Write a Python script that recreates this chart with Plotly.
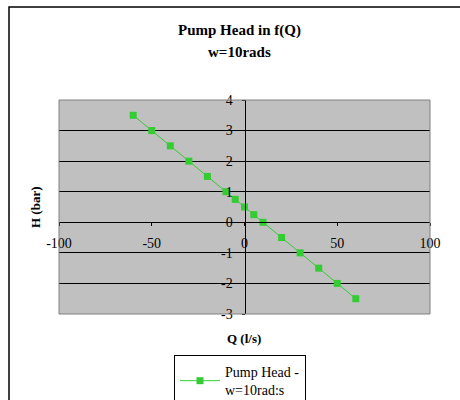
import plotly.graph_objects as go

# Data
flow_q = [-60, -50, -40, -30, -20, -10, -5, 0, 5, 10, 20, 30, 40, 50, 60]
head_h = [3.5, 3.0, 2.5, 2.0, 1.5, 1.0, 0.75, 0.5, 0.25, 0.0, -0.5, -1.0, -1.5, -2.0, -2.5]
x_ticks = [-100, -50, 0, 50, 100]
x_tick_labels = ["-100", "-50", "0", "50", "100"]
y_ticks = [-3, -2, -1, 0, 1, 2, 3, 4]
y_tick_labels = ["-3", "-2", "-1", "0", "1", "2", "3", "4"]
series_name = "Pump Head -<br>w=10rad:s"

W, H = 460, 400
L, R, T, B = 59, 30, 100, 86
PW, PH = W - L - R, H - T - B
XR = [-100, 100]
YR = [-3, 4]

def px(xp):
    return (xp - L) / PW

def py(yp):
    return (H - B - yp) / PH

FONT = "Liberation Serif, Times New Roman, serif"
GREEN = "#33CC33"

fig = go.Figure()
fig.add_trace(go.Scatter(
    x=flow_q, y=head_h, mode="lines+markers", name=series_name,
    line=dict(color=GREEN, width=1),
    marker=dict(symbol="square", size=7, color=GREEN),
))

fig.update_layout(
    width=W, height=H,
    margin=dict(l=L, r=R, t=T, b=B, autoexpand=False),
    paper_bgcolor="white", plot_bgcolor="#C0C0C0",
    font=dict(family=FONT, size=14, color="black"),
    showlegend=True,
    legend=dict(
        x=px(174), y=py(355), xanchor="left", yanchor="top",
        bordercolor="black", borderwidth=1, bgcolor="white",
        font=dict(family=FONT, size=14, color="black"),
        itemwidth=40,
    ),
    xaxis=dict(
        range=XR, tickvals=x_ticks, ticktext=x_tick_labels,
        showgrid=False, zeroline=False,
        showline=True, linecolor="black", linewidth=1,
        anchor="free", position=(0 - YR[0]) / (YR[1] - YR[0]),
        ticks="outside", ticklen=3, tickcolor="black",
        ticklabelstandoff=5,
        tickfont=dict(family=FONT, size=14),
    ),
    yaxis=dict(
        range=YR, tickvals=y_ticks, ticktext=y_tick_labels,
        showgrid=True, gridcolor="black", gridwidth=1,
        zeroline=False,
        showline=True, linecolor="black", linewidth=1,
        anchor="free", position=(0 - XR[0]) / (XR[1] - XR[0]),
        ticks="outside", ticklen=3, tickcolor="black",
        ticklabelstandoff=6,
        tickfont=dict(family=FONT, size=14),
    ),
    shapes=[
        dict(type="rect", xref="paper", yref="paper", x0=0, x1=1, y0=0, y1=1,
             line=dict(color="#808080", width=1), layer="above"),
        dict(type="rect", xref="paper", yref="paper",
             x0=px(9), x1=px(475), y0=py(415), y1=py(7),
             line=dict(color="black", width=1.5)),
    ],
    annotations=[
        dict(text="<b>Pump Head in f(Q)</b>", xref="paper", yref="paper",
             x=px(239), y=py(30), showarrow=False, xanchor="center", yanchor="middle",
             font=dict(family=FONT, size=15)),
        dict(text="<b>w=10rads</b>", xref="paper", yref="paper",
             x=px(239), y=py(52), showarrow=False, xanchor="center", yanchor="middle",
             font=dict(family=FONT, size=15)),
        dict(text="<b>Q (l/s)</b>", xref="paper", yref="paper",
             x=px(244), y=py(338), showarrow=False, xanchor="center", yanchor="middle",
             font=dict(family=FONT, size=13)),
        dict(text="<b>H (bar)</b>", xref="paper", yref="paper",
             x=px(35), y=py(207), showarrow=False, xanchor="center", yanchor="middle",
             textangle=-90, font=dict(family=FONT, size=13)),
    ],
)

fig.write_html("out.html")
